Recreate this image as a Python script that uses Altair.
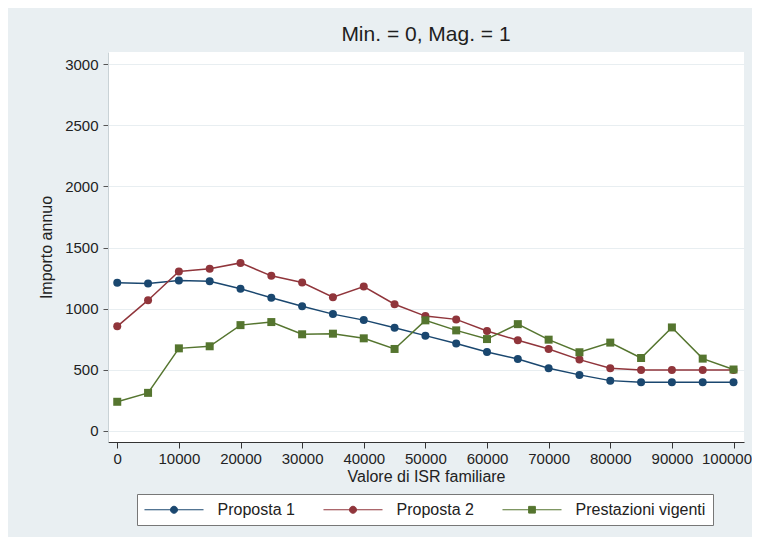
import altair as alt
import pandas as pd

# ---- data ----
isr = [0, 5000, 10000, 15000, 20000, 25000, 30000, 35000, 40000, 45000, 50000,
       55000, 60000, 65000, 70000, 75000, 80000, 85000, 90000, 95000, 100000]
proposta1 = [1212, 1206, 1231, 1225, 1163, 1090, 1021, 956, 907, 845, 780,
             715, 646, 589, 513, 459, 412, 398, 398, 398, 398]
proposta2 = [856, 1070, 1304, 1328, 1375, 1269, 1214, 1095, 1182, 1037, 940,
             913, 818, 742, 671, 584, 513, 498, 498, 498, 498]
vigenti = [239, 312, 676, 693, 866, 891, 791, 796, 758, 671, 905,
           823, 752, 874, 747, 644, 723, 597, 847, 592, 503]

series = ["Proposta 1", "Proposta 2", "Prestazioni vigenti"]
colors = ["#1a476f", "#90353b", "#55752f"]
x_ticks = [0, 10000, 20000, 30000, 40000, 50000, 60000, 70000, 80000, 90000, 100000]
y_ticks = [0, 500, 1000, 1500, 2000, 2500, 3000]

FONT = "Liberation Sans"
TXT = "#222222"

rows = []
for name, vals in zip(series, [proposta1, proposta2, vigenti]):
    for xv, yv in zip(isr, vals):
        rows.append({"isr": xv, "importo": yv, "serie": name})
df = pd.DataFrame(rows)

# legend symbols: a short line with the marker in the middle
# (symbol size 256 -> path unit = 8 px)
circle_path = ("M-3.69,0H3.69M0.44,0A0.44,0.44,0,1,1,-0.44,0"
               "A0.44,0.44,0,1,1,0.44,0Z")
square_path = "M-3.69,0H3.69M-0.42,-0.42H0.42V0.42H-0.42Z"
legend_paths = [circle_path, circle_path, square_path]

x_enc = alt.X(
    "isr:Q",
    scale=alt.Scale(domain=[-1500, 101700], nice=False, zero=False),
    axis=alt.Axis(values=x_ticks, format="d", title="Valore di ISR familiare",
                  grid=False, domainColor="#333333", tickColor="#333333",
                  tickSize=6, labelPadding=3, titlePadding=2,
                  labelOffset={"condition": {"test": "datum.value == 100000", "value": -7},
                               "value": 0}),
)
y_enc = alt.Y(
    "importo:Q",
    scale=alt.Scale(domain=[-90, 3100], nice=False, zero=False),
    axis=alt.Axis(values=y_ticks, format="d", title="Importo annuo",
                  grid=True, gridColor="#e8eef1", gridWidth=1.2,
                  domainColor="#c9d2d6", tickColor="#555555",
                  tickSize=5, labelPadding=5, titlePadding=10),
)
# colour scale for the drawn marks (domain listed in another order so that
# its hidden legend is not merged with the visible one)
mark_color = alt.Color(
    "serie:N",
    scale=alt.Scale(domain=[series[2], series[0], series[1]],
                    range=[colors[2], colors[0], colors[1]]),
    legend=None,
)

base = alt.Chart(df).encode(x=x_enc, y=y_enc)

lines = base.mark_line(strokeWidth=1.5).encode(color=mark_color)
circles = base.mark_point(shape="circle", filled=True, size=64, opacity=1).encode(
    color=mark_color
).transform_filter(alt.FieldOneOfPredicate(field="serie", oneOf=series[:2]))
squares = base.mark_point(shape="square", filled=True, size=64, opacity=1).encode(
    color=mark_color
).transform_filter(alt.FieldEqualPredicate(field="serie", equal=series[2]))

leg = alt.Legend(
    title=None, orient="none", legendX=29, legendY=442, direction="horizontal",
    columns=3, symbolSize=256, symbolStrokeWidth=1, symbolOpacity=1,
    symbolOffset=21.5, labelOffset=35,
    labelFont=FONT, labelFontSize=16, labelColor=TXT,
    labelLimit=300, columnPadding=26, padding=7,
    strokeColor="#777777", fillColor="white",
)
legend_layer = base.mark_point(filled=True, opacity=0).encode(
    fill=alt.Fill("serie:N", scale=alt.Scale(domain=series, range=colors), legend=leg),
    stroke=alt.Stroke("serie:N", scale=alt.Scale(domain=series, range=colors), legend=leg),
    shape=alt.Shape("serie:N", scale=alt.Scale(domain=series, range=legend_paths), legend=leg),
)

chart = alt.layer(lines, circles, squares, legend_layer).properties(
    width=636,
    height=390,
    title=alt.TitleParams("Min. = 0, Mag. = 1", font=FONT, fontSize=21,
                          fontWeight="normal", color="#1e1e1e", anchor="middle",
                          offset=7),
    padding={"left": 100, "top": 44, "right": 8, "bottom": 95},
    autosize=alt.AutoSizeParams(type="none"),
    background="#e9eff2",
).configure_view(
    fill="white", stroke=None
).configure_axis(
    labelFont=FONT, labelFontSize=15, labelColor=TXT,
    titleFont=FONT, titleFontSize=16, titleFontWeight="normal", titleColor=TXT,
    domainWidth=1, tickWidth=1,
)

chart.save("out.html", embed_options={"renderer": "svg", "actions": False})
